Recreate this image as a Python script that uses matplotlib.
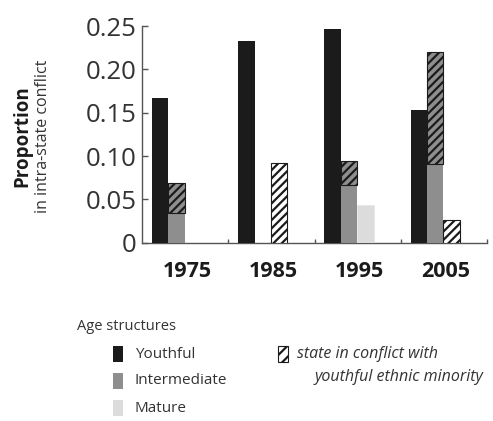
import matplotlib
matplotlib.use("Agg")
import matplotlib.pyplot as plt
import numpy as np
from matplotlib.patches import Rectangle

plt.rcParams["font.family"] = ["Open Sans", "DejaVu Sans"]
plt.rcParams["hatch.linewidth"] = 1.6

years = ["1975", "1985", "1995", "2005"]
youthful = [0.167, 0.233, 0.247, 0.153]
intermediate = [0.034, 0.0, 0.067, 0.091]
intermediate_minority = [0.035, 0.0, 0.027, 0.129]
mature = [0.0, 0.0, 0.043, 0.0]
mature_minority = [0.0, 0.092, 0.0, 0.026]
yticks = [0, 0.05, 0.10, 0.15, 0.20, 0.25]
ytick_labels = ["0", "0.05", "0.10", "0.15", "0.20", "0.25"]

INK = "#1b1b1b"
MID = "#8e8e8e"
LIGHT = "#dcdcdc"
AX = "#555555"
HATCH = "////"

W, H = 493, 421
fig = plt.figure(figsize=(W / 100, H / 100), dpi=100)
fig.patch.set_facecolor("white")

ax = fig.add_axes([142 / W, 1 - 242.7 / H, (487 - 142) / W, (242.7 - 26) / H])
x = np.arange(len(years))
bw = 0.19
off = -0.29

ax.bar(x + off, youthful, bw, color=INK, lw=0, zorder=3)
ax.bar(x + off + bw, intermediate, bw, color=MID, lw=0, zorder=3)
ax.bar(x + off + bw, intermediate_minority, bw, bottom=intermediate, color=MID,
       hatch=HATCH, edgecolor=INK, lw=0.8, zorder=3)
ax.bar(x + off + 2 * bw, mature, bw, color=LIGHT, edgecolor="#e6e6e6", lw=0.6, zorder=3)
ax.bar(x + off + 2 * bw, mature_minority, bw, bottom=mature, color="white",
       hatch=HATCH, edgecolor=INK, lw=0.8, zorder=3)
# bars with zero height should not leave outlines
for p in ax.patches:
    if p.get_height() == 0:
        p.set_visible(False)

ax.set_xlim(-0.5, 3.5)
ax.set_ylim(0, 0.25)
for s in ["top", "right"]:
    ax.spines[s].set_visible(False)
for s in ["left", "bottom"]:
    ax.spines[s].set_color(AX)
    ax.spines[s].set_linewidth(1.0)

ax.set_yticks(yticks)
ax.set_yticklabels(ytick_labels, fontsize=18.5, color="#333333")
ax.tick_params(axis="y", direction="in", length=4, width=1, color=AX, pad=4)

ax.set_xticks(x + 0.02)
ax.set_xticklabels(years, fontsize=15.5, fontweight="bold", color=INK)
ax.tick_params(axis="x", length=0, pad=13)
ax.set_xticks(np.arange(len(years)) + 0.5, minor=True)
ax.tick_params(axis="x", which="minor", direction="in", length=3, width=1, color=AX)

fig.text(22 / W, 1 - 136 / H, "Proportion", rotation=90, fontsize=13.5,
         fontweight="bold", color=INK, ha="center", va="center")
fig.text(43 / W, 1 - 136 / H, "in intra-state conflict", rotation=90,
         fontsize=11.5, color="#333333", ha="center", va="center")

# legend drawn in pixel coords
lg = fig.add_axes([0, 0, 1, 1])
lg.set_xlim(0, W)
lg.set_ylim(H, 0)
lg.axis("off")
lg.set_zorder(-1)

lg.text(77, 327, "Age structures", fontsize=10.5, color="#333333", va="center")
items = [("Youthful", INK), ("Intermediate", MID), ("Mature", LIGHT)]
for i, (lab, col) in enumerate(items):
    yy = 354 + i * 27
    lg.add_patch(Rectangle((113, yy - 8), 10, 16, fc=col, ec="none"))
    lg.text(135, yy, lab, fontsize=11, color="#333333", va="center")

lg.add_patch(Rectangle((278, 346), 10, 16, fc="white", ec=INK, lw=0.8, hatch="///"))
lg.text(297, 354, "state in conflict with", fontsize=11.5, style="italic",
        color="#333333", va="center")
lg.text(315, 377, "youthful ethnic minority", fontsize=11.5, style="italic",
        color="#333333", va="center")

fig.savefig("out.png", dpi=100, facecolor="white")
